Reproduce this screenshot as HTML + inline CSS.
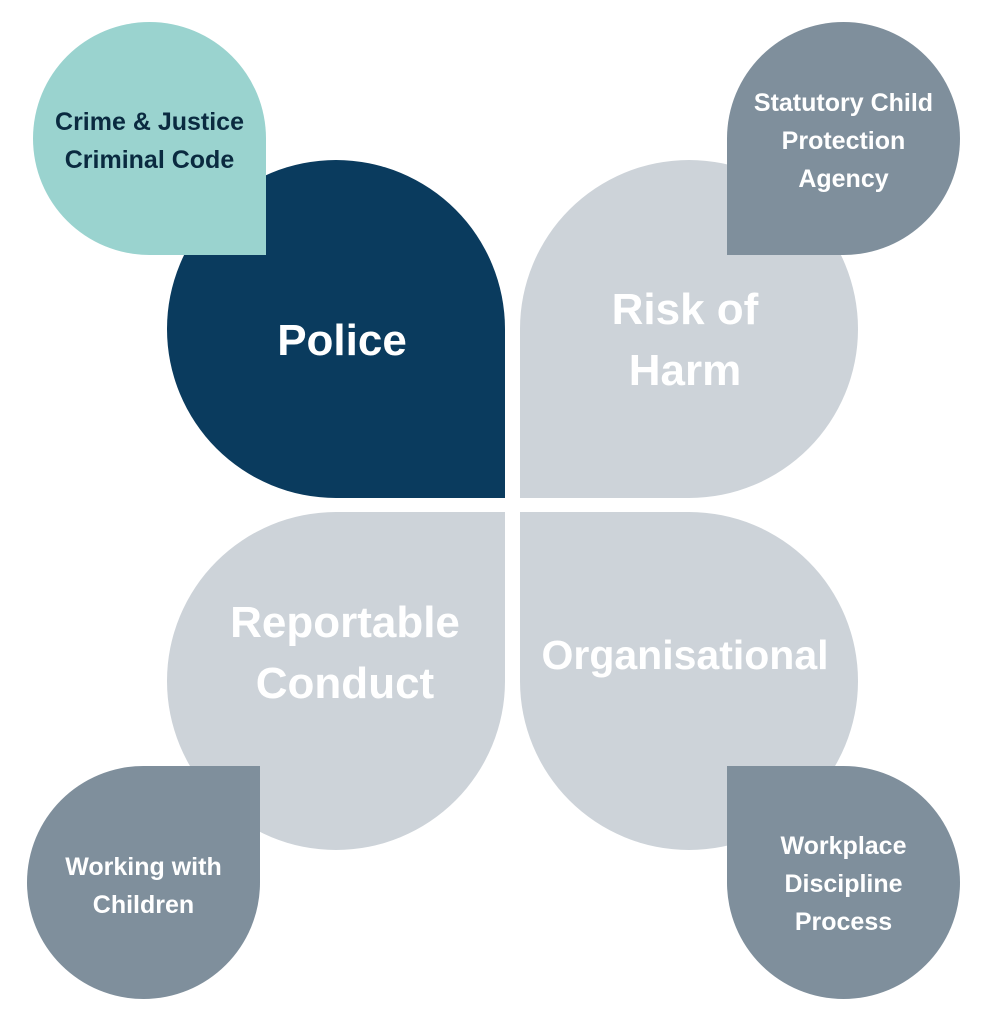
<!DOCTYPE html>
<html><head><meta charset="utf-8"><style>
body{margin:0;width:991px;height:1024px;background:#fff;position:relative;overflow:hidden;font-family:"Liberation Sans",sans-serif;font-weight:bold}
.s{position:absolute;display:flex;align-items:center;justify-content:center;text-align:center;box-sizing:border-box}
.big{width:338px;height:338px;color:#fff;font-size:44px;line-height:61px}
.sm{width:233px;height:233px;font-size:25px;line-height:38px}
</style></head><body>
<div class="s big" style="left:167px;top:160px;background:#0a3b5e;border-radius:169px 169px 0 169px;padding:22px 0 0 12px">Police</div>
<div class="s big" style="left:520px;top:160px;background:#cdd3d9;border-radius:169px 169px 169px 0;padding:22px 8px 0 0">Risk of<br>Harm</div>
<div class="s big" style="left:167px;top:512px;background:#cdd3d9;border-radius:169px 0 169px 169px;padding:0 0 56px 18px">Reportable<br>Conduct</div>
<div class="s big" style="left:520px;top:512px;background:#cdd3d9;border-radius:0 169px 169px 169px;font-size:41px;padding:0 8px 52px 0">Organisational</div>
<div class="s sm" style="left:33px;top:22px;background:#9ad3cf;color:#0a2a40;border-radius:117px 117px 0 117px;padding-top:4px">Crime &amp; Justice<br>Criminal Code</div>
<div class="s sm" style="left:727px;top:22px;background:#7f8f9c;color:#fff;border-radius:117px 117px 117px 0;padding-top:4px">Statutory Child<br>Protection<br>Agency</div>
<div class="s sm" style="left:27px;top:766px;background:#7f8f9c;color:#fff;border-radius:117px 0 117px 117px;padding-top:6px">Working with<br>Children</div>
<div class="s sm" style="left:727px;top:766px;background:#7f8f9c;color:#fff;border-radius:0 117px 117px 117px;padding-top:2px">Workplace<br>Discipline<br>Process</div>
</body></html>
